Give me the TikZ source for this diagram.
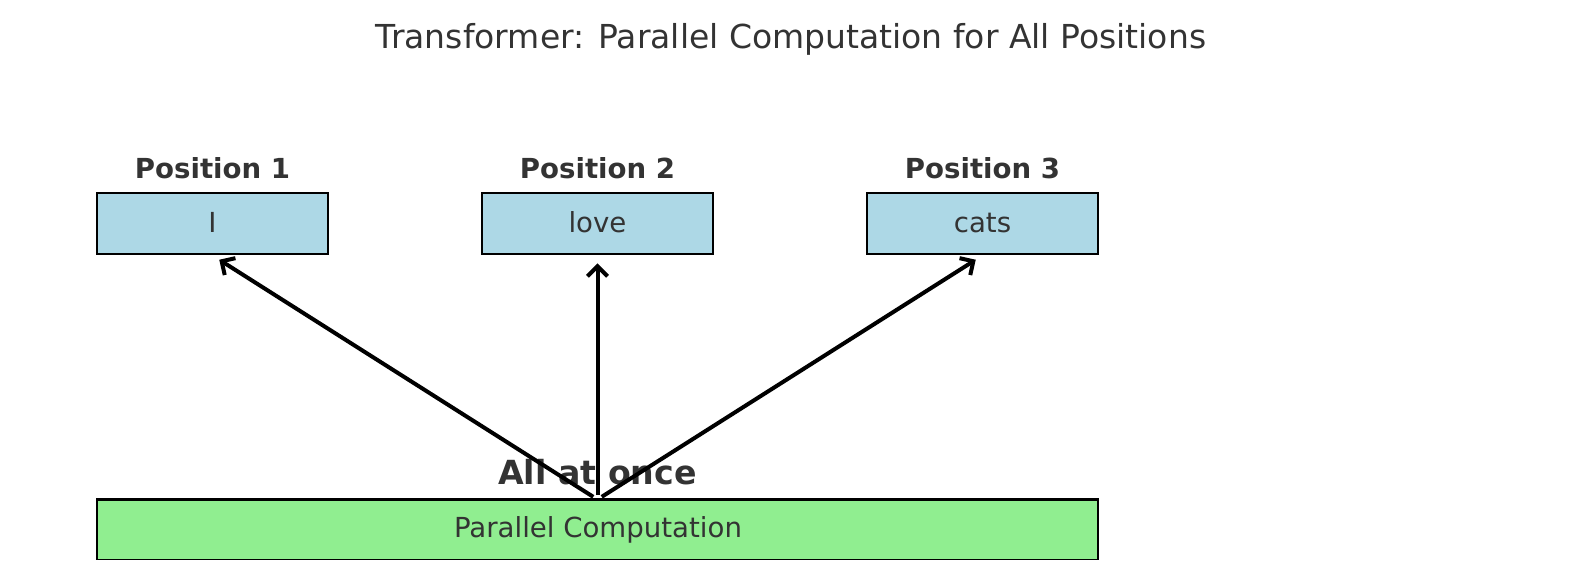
\documentclass[tikz,border=0pt]{standalone}
\usepackage{fontspec}
\setmainfont{DejaVu Sans}
\usetikzlibrary{arrows.meta}
\definecolor{txt}{HTML}{333333}
\definecolor{lblue}{HTML}{ADD8E6}
\definecolor{lgreen}{HTML}{90EE90}
\begin{document}
\begin{tikzpicture}[x=0.5pt,y=-0.5pt,
  tok/.style={draw=black, line width=1.45pt, fill=lblue, minimum width=115.5pt, minimum height=30.5pt, inner sep=0pt},
  boxtext/.style={font=\fontsize{13.8}{16}\selectfont, text=txt, anchor=base, inner sep=0pt},
  lab/.style={font=\fontsize{13.8}{16}\selectfont\bfseries, text=txt, anchor=base, inner sep=0pt},
  arr/.style={-{Straight Barb[length=5pt,width=10pt,line width=2pt]}, line width=2pt, shorten <=2.5pt, shorten >=4pt}]
\useasboundingbox (0,0) rectangle (1580,580);
% title
\node[font=\fontsize{16.5}{20}\selectfont, text=txt, anchor=base, inner sep=0pt] (title) at (791,48) {Transformer: Parallel Computation for All Positions};
% token boxes
\node[tok] (b1) at (212.5,223.5) {};
\node[tok] (b2) at (597.5,223.5) {};
\node[tok] (b3) at (982.5,223.5) {};
\node[boxtext] (t1) at (212.5,232) {I};
\node[boxtext] (t2) at (597.5,232) {love};
\node[boxtext] (t3) at (982.5,232) {cats};
\node[lab] (l1) at (212.5,178) {Position 1};
\node[lab] (l2) at (597.5,178) {Position 2};
\node[lab] (l3) at (982.5,178) {Position 3};
% parallel computation box (clipped at bottom)
\begin{scope}
\clip (0,0) rectangle (1580,559.5);
\node[draw=black, line width=1.45pt, fill=lgreen, minimum width=500.5pt, minimum height=30.5pt, inner sep=0pt] (pc) at (597.5,530) {};
\end{scope}
\coordinate (src) at (597.5,499.5);
\node[boxtext] (pct) at (598,537) {Parallel Computation};
\node[font=\fontsize{16.6}{20}\selectfont\bfseries, text=txt, anchor=base, inner sep=0pt] (once) at (597.5,484) {All at once};
% arrows
\draw[arr] (src) -- (b1.south);
\draw[arr] (src) -- (b2.south);
\draw[arr] (src) -- (b3.south);
\end{tikzpicture}
\end{document}
